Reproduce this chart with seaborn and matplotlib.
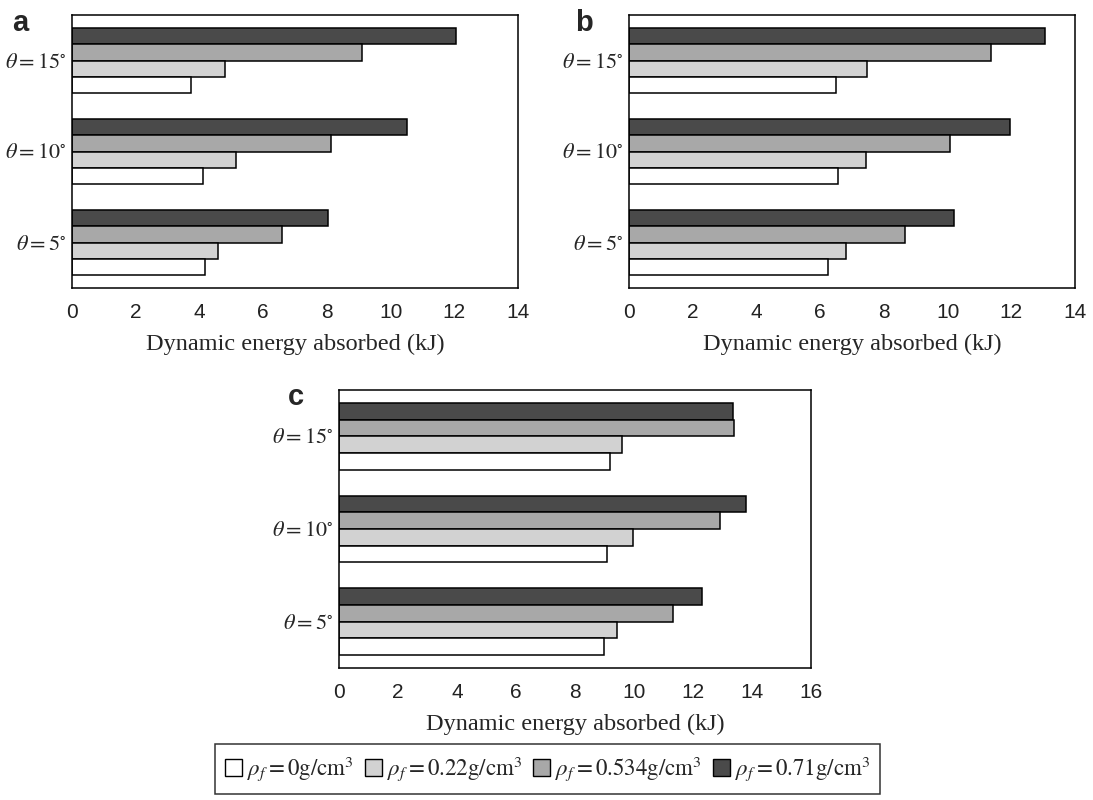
import pandas as pd
import matplotlib.pyplot as plt
from matplotlib.patches import Patch
import seaborn as sns

# Datos (orden de angulos: 15, 10, 5)
angulos = [r"$\theta = 15^{\circ}$", r"$\theta = 10^{\circ}$", r"$\theta = 5^{\circ}$"]
densidades = ["0", "0.22", "0.534", "0.71"]

a_0 = [3.73, 4.11, 4.16]
a_022 = [4.81, 5.14, 4.57]
a_0534 = [9.10, 8.13, 6.59]
a_071 = [12.05, 10.52, 8.03]

b_0 = [6.50, 6.57, 6.24]
b_022 = [7.48, 7.43, 6.81]
b_0534 = [11.36, 10.09, 8.65]
b_071 = [13.06, 11.97, 10.20]

c_0 = [9.17, 9.07, 8.97]
c_022 = [9.61, 9.98, 9.41]
c_0534 = [13.40, 12.90, 11.33]
c_071 = [13.36, 13.81, 12.30]

colores = {"0": "#ffffff", "0.22": "#d2d2d2", "0.534": "#a8a8a8", "0.71": "#4a4a4a"}


def tabla(v0, v022, v0534, v071):
    filas = []
    for dens, vals in zip(densidades, [v0, v022, v0534, v071]):
        for ang, v in zip(angulos, vals):
            filas.append({"angulo": ang, "densidad": dens, "energia": v})
    return pd.DataFrame(filas)


sns.set_style("white")
plt.rcParams["font.family"] = ["Liberation Serif", "DejaVu Serif"]
plt.rcParams["mathtext.fontset"] = "stix"

fig = plt.figure(figsize=(10.93, 8), dpi=100)
W, H = 1093, 800


def panel(x0, y0, x1, y1, df, xmax, letra, lx, ly):
    ax = fig.add_axes([x0 / W, 1 - y1 / H, (x1 - x0) / W, (y1 - y0) / H])
    sns.barplot(data=df, y="angulo", x="energia", hue="densidad",
                order=angulos, hue_order=densidades[::-1], palette=colores,
                orient="h", width=0.72, gap=0, edgecolor="black", linewidth=1.1,
                saturation=1, legend=False, ax=ax)
    ax.set_xlim(0, xmax)
    ax.set_xticks(range(0, xmax + 1, 2))
    ax.set_xticklabels([str(t) for t in range(0, xmax + 1, 2)],
                       family="Liberation Sans", fontsize=15, color="#222222")
    ax.tick_params(axis="x", direction="out", length=5, width=1, color="black", pad=6)
    ax.tick_params(axis="y", length=0, labelsize=16, pad=4)
    ax.set_ylabel("")
    ax.set_xlabel("Dynamic energy absorbed (kJ)", fontsize=17.5, labelpad=8)
    for s in ax.spines.values():
        s.set_visible(True)
        s.set_color("black")
        s.set_linewidth(1.1)
    fig.text(lx / W, 1 - ly / H, letra, family="Liberation Sans", fontweight="bold",
             fontsize=21, va="baseline")
    return ax


panel(72, 15, 518, 288, tabla(a_0, a_022, a_0534, a_071), 14, "a", 12, 31)
panel(629, 15, 1075, 288, tabla(b_0, b_022, b_0534, b_071), 14, "b", 575, 31)
panel(339, 390, 811, 668, tabla(c_0, c_022, c_0534, c_071), 16, "c", 288, 405)

handles = [Patch(facecolor=colores[d], edgecolor="black", linewidth=1) for d in densidades]
labels = [r"$\rho_f = 0\mathrm{g/cm}^3$", r"$\rho_f = 0.22\mathrm{g/cm}^3$",
          r"$\rho_f = 0.534\mathrm{g/cm}^3$", r"$\rho_f = 0.71\mathrm{g/cm}^3$"]
leg = fig.legend(handles, labels, ncol=4, loc="center",
                 bbox_to_anchor=(547.5 / W, 1 - 769 / H), frameon=True, fancybox=False,
                 edgecolor="black", fontsize=16.5, handlelength=0.75, handleheight=0.75,
                 handletextpad=0.2, columnspacing=0.5, borderpad=0.45, borderaxespad=0)
leg.get_frame().set_linewidth(1.1)

fig.savefig("out.png", dpi=100)
